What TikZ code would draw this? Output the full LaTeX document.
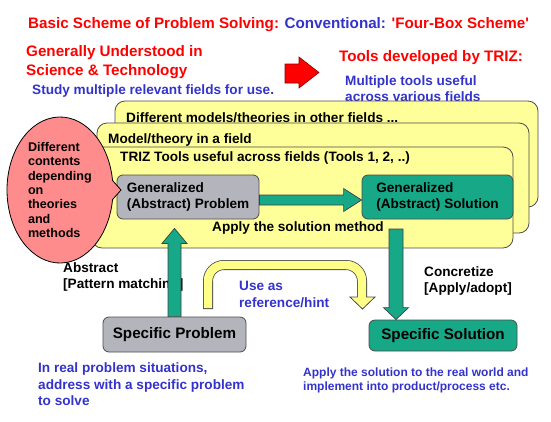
\documentclass[tikz,border=0pt]{standalone}
\usepackage{fontspec}
\setmainfont{Liberation Sans}
\usepackage{tikz}
\usetikzlibrary{shapes.callouts,calc}
\definecolor{triyellow}{HTML}{FFFF99}
\definecolor{triteal}{HTML}{17A887}
\definecolor{trigray}{HTML}{B4B4BC}
\definecolor{tripink}{HTML}{FF8C8C}
\definecolor{triblue}{HTML}{3333CC}
\definecolor{trired}{HTML}{FF0000}
\definecolor{hintyellow}{HTML}{FFFF88}

\newcommand\fsbig{\fontsize{15.2pt}{19pt}\selectfont}
\newcommand\fsmid{\fontsize{13.6pt}{16.5pt}\selectfont}
\newcommand\fssmall{\fontsize{12pt}{14pt}\selectfont}

\begin{document}
\begin{tikzpicture}[
    x=1pt, y=-1pt,
    every node/.style={font=\bfseries\fsmid, inner sep=0pt},
    layer/.style={draw=black!70, fill=triyellow, line width=0.8pt, rounded corners=10pt},
    lab/.style={anchor=west, align=left},
    redtxt/.style={lab, text=trired, font=\bfseries\fsbig},
    bluetxt/.style={lab, text=triblue},
    probbox/.style={draw=black!70, fill=trigray, line width=0.8pt, rounded corners=6pt},
    solbox/.style={draw=black!70, fill=triteal, line width=0.8pt, rounded corners=6pt},
    flow/.style={draw=black!75, fill=triteal, line width=0.7pt},
  ]
  \useasboundingbox (0,0) rectangle (551,421);

  % ---------- heading ----------
  \node[redtxt] (title) at (28,24.5)
  {Basic Scheme of Problem Solving: \textcolor{triblue}{Conventional:} \textquotesingle Four-Box Scheme\textquotesingle};
  \node[redtxt] (general) at (26,62.5) {Generally Understood in\\Science \& Technology};
  \node[bluetxt] (study) at (32,90.5) {Study multiple relevant fields for use.};
  \node[redtxt] (trizhead) at (339,58) {Tools developed by TRIZ:};
  \node[bluetxt] (trizsub) at (345,88.5) {Multiple tools useful\\across various fields};
  \draw[draw=red!55!black, fill=trired, line width=0.6pt]
  (285,64) -- (299,64) -- (299,57) -- (319,72.5) -- (299,88) -- (299,83) -- (285,83) -- cycle;

  % ---------- stacked fields ----------
  \draw[layer] (115,101) rectangle (538,207);
  \node[lab] (others) at (126,118) {Different models/theories in other fields ...};
  \draw[layer] (97,123) rectangle (529,233);
  \node[lab] (field) at (108,140) {Model/theory in a field};
  \draw[layer] (92,147) rectangle (513,248);
  \node[lab] (tools) at (120,158) {TRIZ Tools useful across fields (Tools 1, 2, ..)};
  \node[lab] (method) at (212,228) {Apply the solution method};

  % ---------- four boxes ----------
  \node[probbox, minimum width=142pt, minimum height=44pt, align=left] (gp) at (188,197)
  {Generalized\\(Abstract) Problem};
  \node[solbox, minimum width=151pt, minimum height=44pt, align=left] (gs) at (437.5,197)
  {Generalized\\(Abstract) Solution};
  \node[probbox, minimum width=143pt, minimum height=35pt, font=\bfseries\fsbig] (sp) at (174.5,334.5)
  {Specific Problem};
  \node[solbox, minimum width=148pt, minimum height=31pt, font=\bfseries\fsbig] (ss) at (443,335.5)
  {Specific Solution};

  \node[ellipse callout, draw=black, line width=0.8pt, fill=tripink,
    minimum width=106pt, minimum height=146pt, text width=64pt, align=left,
    callout absolute pointer={(121,190)},
    font=\bfseries\fontsize{12.6pt}{14.3pt}\selectfont] (contents) at (60,190)
  {Different\\contents\\depending\\on\\theories\\and\\methods};

  % ---------- side texts ----------
  \node[lab] (abstract) at (63,277) {Abstract\\{[}Pattern matching{]}};
  \node[lab] (concrete) at (424,281) {Concretize\\{[}Apply/adopt{]}};
  \node[bluetxt] (hint) at (239,294.5) {Use as\\reference/hint};
  \node[bluetxt] (real) at (38,384.5) {In real problem situations,\\address with a specific problem\\to solve};
  \node[bluetxt, font=\bfseries\fssmall] (apply) at (303,380)
  {Apply the solution to the real world and\\implement into product/process etc.};

  % ---------- block arrows ----------
  \draw[flow] let \p1=([yshift=-3pt]gp.east), \p2=([yshift=-3pt]gs.west) in
  (\x1,\y1+5pt) -- (\x2-18pt,\y1+5pt) -- (\x2-18pt,\y1+11.5pt) -- (\x2,\y1)
  -- (\x2-18pt,\y1-11.5pt) -- (\x2-18pt,\y1-5pt) -- (\x1,\y1-5pt) -- cycle;

  \draw[flow] let \p1=(sp.north), \p2=(gp.south) in
  (\x1-6.5pt,\y1) -- (\x1-6.5pt,\y2-24pt) -- (\x1-12.5pt,\y2-24pt) -- (\x1,\y2-9pt)
  -- (\x1+12.5pt,\y2-24pt) -- (\x1+6.5pt,\y2-24pt) -- (\x1+6.5pt,\y1) -- cycle;

  \coordinate (soltail) at (396,229);
  \draw[flow] let \p1=(soltail), \p2=(ss.north) in
  (\x1-7pt,\y1) -- (\x1-7pt,\y2+12pt) -- (\x1-12.5pt,\y2+12pt) -- (\x1,\y2)
  -- (\x1+12.5pt,\y2+12pt) -- (\x1+7pt,\y2+12pt) -- (\x1+7pt,\y1) -- cycle;

  % hint arrow (outline, head, then fill)
  \draw[black!70, line width=10pt, rounded corners=16pt] (208,309) -- (208,265) -- (362,265) -- (362,298);
  \draw[draw=black!70, fill=hintyellow, line width=0.8pt] (350,297) -- (375,297) -- (362.5,309) -- cycle;
  \draw[hintyellow, line width=8.4pt, rounded corners=16pt] (208,308.2) -- (208,265) -- (362,265) -- (362,299);

\end{tikzpicture}
\end{document}
